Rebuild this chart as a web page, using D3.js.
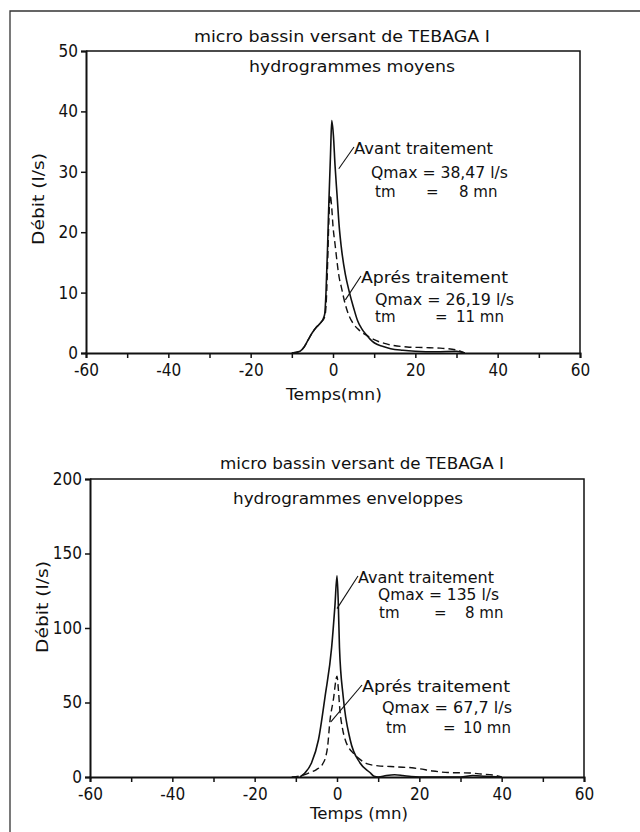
<!DOCTYPE html>
<html>
<head>
<meta charset="utf-8">
<script src="https://cdn.jsdelivr.net/npm/d3@7"></script>
<style>
  html, body { margin: 0; padding: 0; background: #fff; }
  svg { display: block; }
  text { font-family: "DejaVu Sans", sans-serif; fill: #111; }
</style>
</head>
<body>
<svg id="chart" width="640" height="832"></svg>
<script>
// ---- DATA ----
const titleText = "micro bassin versant de TEBAGA I";
const xTickValues = [-60, -50, -40, -30, -20, -10, 0, 10, 20, 30, 40, 50, 60];
const xTickLabels = [-60, -40, -20, 0, 20, 40, 60];

// Panel 1 : hydrogrammes moyens
const moyYTicks = [0, 10, 20, 30, 40, 50];
const moyAvantT = [-10, -8, -7, -6, -5, -4, -3, -2.3, -2, -1.7, -1.3, -1, -0.6, -0.3, 0.1, 0.5, 1, 1.5, 2, 3, 4, 5, 6, 7, 8, 9, 10, 12, 14, 17, 20, 25, 30, 32];
const moyAvantQ = [0, 0.3, 1, 2.2, 3.4, 4.3, 5, 5.8, 6.5, 10, 18, 25, 33, 38.47, 36, 31, 26, 21, 17.6, 13, 10, 7.5, 5.3, 4, 3.1, 2.3, 1.7, 1.1, 0.7, 0.45, 0.3, 0.2, 0.3, 0];
const moyApresT = [-10, -8, -7, -6, -5, -4, -3, -2, -1.6, -1.3, -1, -0.7, -0.3, 0, 0.5, 1, 1.5, 2, 3, 4, 5, 6, 7, 8, 10, 13, 18, 22, 26, 30, 32];
const moyApresQ = [0, 0.3, 1, 2.2, 3.4, 4.3, 5, 6, 9, 15, 22, 26.19, 24, 21, 18, 15, 12.5, 11, 8, 6, 4.8, 4, 3.4, 3, 2.2, 1.5, 1, 0.9, 0.8, 0.5, 0];

// Panel 2 : hydrogrammes enveloppes
const envYTicks = [0, 50, 100, 150, 200];
const envAvantT = [-9, -7.8, -6.2, -4.5, -2.9, -1.3, -0.5, 0, 0.3, 0.6, 1.5, 3.2, 5.6, 8, 9, 10, 12, 14, 16, 18, 20, 30, 33, 36, 40];
const envAvantQ = [0, 2.7, 9.4, 25, 54, 87, 115, 135, 118, 87, 54, 25, 9.4, 3, 0.5, 0, 1, 1.5, 1, 0.3, 0, 0, 1, 0.5, 0];
const envApresT = [-11, -9, -8, -6.6, -5, -3.5, -2.8, -2.3, -1.7, -0.9, 0, 0.3, 0.7, 1.3, 2, 3, 4, 5.5, 7.2, 10, 13, 16, 18.2, 20, 23.3, 27, 30, 32.3, 35, 38, 40];
const envApresQ = [0, 0.7, 1.5, 3, 5, 8.7, 13, 20, 38, 51.6, 67.7, 60, 45, 33, 25, 19, 16, 12, 9, 7.5, 7, 6.5, 6.2, 5.5, 4, 3, 2.8, 2.7, 2, 1.3, 0];

// ---- DRAW ----
const svg = d3.select("#chart");
const numFont = "DejaVu Sans Condensed, DejaVu Sans, sans-serif";

// outer page frame
svg.append("path").attr("d", "M10,832 L10,11 L640,11")
  .attr("fill", "none").attr("stroke", "#333").attr("stroke-width", 1.3);

function panel(cfg) {
  const x = d3.scaleLinear().domain([-60, 60]).range([cfg.left, cfg.right]);
  const y = d3.scaleLinear().domain([0, cfg.yMax]).range([cfg.bottom, cfg.top]);
  const g = svg.append("g");

  // frame top & right
  g.append("path")
    .attr("d", `M${cfg.left},${cfg.top} L${cfg.right},${cfg.top} L${cfg.right},${cfg.bottom}`)
    .attr("fill", "none").attr("stroke", "#111").attr("stroke-width", 1.5);

  // x axis
  const xa = g.append("g").attr("transform", `translate(0,${cfg.bottom})`)
    .call(d3.axisBottom(x).tickValues(xTickValues).tickSize(5)
      .tickFormat(d => xTickLabels.includes(d) ? (d < 0 ? "-" + Math.abs(d) : d) : ""));
  xa.select(".domain").attr("stroke", "#111").attr("stroke-width", 2);
  xa.selectAll(".tick line").attr("stroke", "#111").attr("stroke-width", 1.5);
  xa.selectAll(".tick text").attr("font-size", 17).attr("dy", "0.71em").attr("y", 11)
    .style("font-family", numFont);

  // y axis
  const ya = g.append("g").attr("transform", `translate(${cfg.left},0)`)
    .call(d3.axisLeft(y).tickValues(cfg.yTicks).tickSize(5).tickFormat(d3.format("d")));
  ya.select(".domain").attr("stroke", "#111").attr("stroke-width", 2);
  ya.selectAll(".tick line").attr("stroke", "#111").attr("stroke-width", 1.5);
  ya.selectAll(".tick text").attr("font-size", 17).attr("x", -8)
    .style("font-family", numFont);

  const line = d3.line().x(d => x(d[0])).y(d => y(d[1])).curve(d3.curveMonotoneX);

  g.append("path").datum(d3.zip(cfg.apresT, cfg.apresQ))
    .attr("d", line).attr("fill", "none").attr("stroke", "#111")
    .attr("stroke-width", 1.4).attr("stroke-dasharray", "7,4");
  g.append("path").datum(d3.zip(cfg.avantT, cfg.avantQ))
    .attr("d", line).attr("fill", "none").attr("stroke", "#111")
    .attr("stroke-width", 1.6);

  const txt = (s, tx, ty, size, anchor, len) => {
    const t = g.append("text").text(s)
      .attr("x", tx).attr("y", ty).attr("font-size", size)
      .attr("text-anchor", anchor || "start");
    if (len) t.attr("textLength", len).attr("lengthAdjust", "spacingAndGlyphs");
    return t;
  };

  txt(titleText, cfg.titleX, cfg.titleY, 15, "middle", cfg.titleW);
  txt(cfg.subtitle, cfg.subX, cfg.subY, 16, "middle", cfg.subW);
  txt(cfg.xLabel, cfg.xLabX, cfg.xLabY, 16, "middle", cfg.xLabW);
  g.append("text").text("Débit (l/s)")
    .attr("transform", `translate(${cfg.yLabX},${cfg.yLabY}) rotate(-90)`)
    .attr("text-anchor", "middle").attr("font-size", 16)
    .attr("textLength", 92).attr("lengthAdjust", "spacingAndGlyphs");

  // annotations
  cfg.notes.forEach(n => {
    txt(n.head, n.hx, n.hy, 15, "start", n.hw);
    txt(n.q, n.qx, n.qy, 15, "start", n.qw);
    txt("tm", n.tx, n.ty, 15);
    txt("=", n.ex, n.ty, 15);
    txt(n.tv, n.vx, n.ty, 15);
    g.append("line")
      .attr("x1", x(n.pt[0])).attr("y1", y(n.pt[1]))
      .attr("x2", n.hx).attr("y2", n.hy - 7)
      .attr("stroke", "#111").attr("stroke-width", 1.1);
  });
}

panel({
  left: 86, right: 580, top: 51, bottom: 353, yMax: 50, yTicks: moyYTicks,
  avantT: moyAvantT, avantQ: moyAvantQ, apresT: moyApresT, apresQ: moyApresQ,
  titleX: 342, titleY: 42, titleW: 296, subtitle: "hydrogrammes  moyens", subX: 352, subY: 72, subW: 206,
  xLabel: "Temps(mn)", xLabX: 334, xLabY: 400, xLabW: 96, yLabX: 44, yLabY: 199,
  notes: [
    { head: "Avant  traitement", hx: 354, hy: 154, hw: 139, q: "Qmax = 38,47 l/s", qx: 371, qy: 178, qw: 137,
      tx: 375, ex: 426, vx: 459, tv: "8  mn", ty: 197, pt: [1.4, 30.5] },
    { head: "Aprés traitement", hx: 361, hy: 283, hw: 147, q: "Qmax  =  26,19 l/s", qx: 375, qy: 305, qw: 139,
      tx: 375, ex: 435, vx: 456, tv: "11   mn", ty: 322, pt: [3, 8.8] }
  ]
});

panel({
  left: 90, right: 584, top: 479, bottom: 777, yMax: 200, yTicks: envYTicks,
  avantT: envAvantT, avantQ: envAvantQ, apresT: envApresT, apresQ: envApresQ,
  titleX: 362, titleY: 469, titleW: 284, subtitle: "hydrogrammes  enveloppes", subX: 348, subY: 504, subW: 230,
  xLabel: "Temps (mn)", xLabX: 359, xLabY: 819, xLabW: 98, yLabX: 48, yLabY: 607,
  notes: [
    { head: "Avant  traitement", hx: 358, hy: 583, hw: 136, q: "Qmax = 135 l/s", qx: 378, qy: 600, qw: 121,
      tx: 379, ex: 434, vx: 465, tv: "8 mn", ty: 618, pt: [0, 113] },
    { head: "Aprés  traitement", hx: 362, hy: 692, hw: 148, q: "Qmax = 67,7 l/s", qx: 382, qy: 713, qw: 130,
      tx: 386, ex: 443, vx: 463, tv: "10  mn", ty: 733, pt: [-1.5, 37] }
  ]
});
</script>
</body>
</html>
